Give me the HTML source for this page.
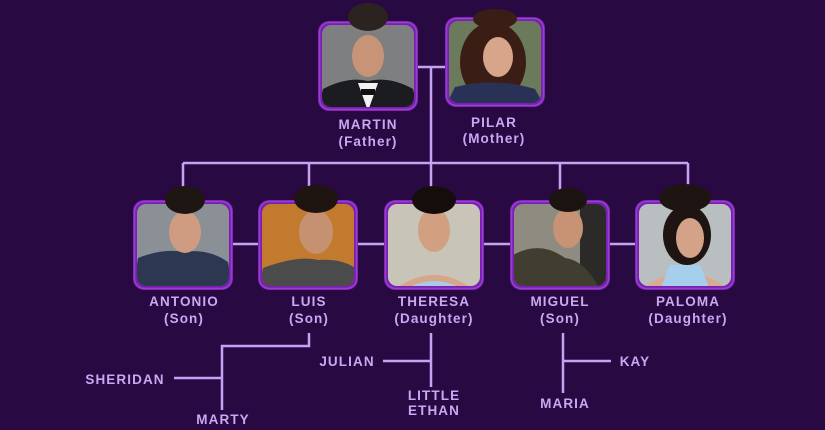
<!DOCTYPE html>
<html><head><meta charset="utf-8"><style>
html,body{margin:0;padding:0;background:#290942;}
body{width:825px;height:430px;overflow:hidden;position:relative;}
svg{position:absolute;left:0;top:0}
text{font-family:"Liberation Sans",sans-serif;font-weight:bold;fill:#c8a8f2;font-size:13.5px;letter-spacing:1.1px}
</style></head><body>
<svg width="825" height="430" viewBox="0 0 825 430">
<defs>
<clipPath id="c"><rect x="4" y="4" width="92" height="82" rx="9"/></clipPath>
<g id="frame"><rect x="0" y="0" width="100" height="90" rx="11" fill="#7a1fb3"/><rect x="1.5" y="1.5" width="97" height="87" rx="10" fill="none" stroke="#9640cc" stroke-width="1.5"/></g>
</defs>
<g stroke="#c7a2f2" stroke-width="2.5" fill="none">
<line x1="417" y1="67" x2="445" y2="67"/>
<line x1="431" y1="67" x2="431" y2="200"/>
<line x1="183" y1="163" x2="688" y2="163"/>
<line x1="183" y1="163" x2="183" y2="200"/>
<line x1="309" y1="163" x2="309" y2="200"/>
<line x1="560" y1="163" x2="560" y2="200"/>
<line x1="688" y1="163" x2="688" y2="200"/>
<line x1="233" y1="244" x2="258" y2="244"/>
<line x1="358" y1="244" x2="384" y2="244"/>
<line x1="484" y1="244" x2="510" y2="244"/>
<line x1="610" y1="244" x2="635" y2="244"/>
<polyline points="309,333 309,346 222,346 222,410"/>
<line x1="174" y1="378" x2="222" y2="378"/>
<line x1="431" y1="333" x2="431" y2="387"/>
<line x1="383" y1="361" x2="431" y2="361"/>
<line x1="563" y1="333" x2="563" y2="393"/>
<line x1="563" y1="361" x2="611" y2="361"/>
</g>
<!-- Martin -->
<g transform="translate(318,21)"><use href="#frame"/><g clip-path="url(#c)"><rect width="100" height="90" fill="#7d7f80"/><path d="M0 90 L5 68 Q30 55 50 60 Q72 55 95 68 L100 90Z" fill="#1b1b22"/><path d="M40 62 L50 90 L60 62Z" fill="#f3f3f3"/><ellipse cx="50" cy="35" rx="16" ry="21" fill="#c89478"/><rect x="43" y="68" width="14" height="6" fill="#111"/></g><ellipse cx="50" cy="-4" rx="20" ry="14" fill="#2b2320"/></g>
<!-- Pilar -->
<g transform="translate(445,17)"><use href="#frame"/><g clip-path="url(#c)"><rect width="100" height="90" fill="#6c7a5c"/><ellipse cx="48" cy="45" rx="33" ry="40" fill="#3a1e16"/><path d="M0 90 L10 70 Q50 60 90 72 L100 90Z" fill="#2a3156"/><ellipse cx="53" cy="40" rx="15" ry="20" fill="#d6a58a"/></g><ellipse cx="50" cy="2" rx="22" ry="10" fill="#3a1e16"/></g>
<!-- Antonio -->
<g transform="translate(133,200)"><use href="#frame"/><g clip-path="url(#c)"><rect width="100" height="90" fill="#8b8f96"/><path d="M0 90 L5 58 Q30 48 50 52 Q75 48 95 62 L100 90Z" fill="#2c3852"/><ellipse cx="52" cy="32" rx="16" ry="21" fill="#cf9c82"/></g><ellipse cx="52" cy="0" rx="20" ry="14" fill="#1d1612"/></g>
<!-- Luis -->
<g transform="translate(258,200)"><use href="#frame"/><g clip-path="url(#c)"><rect width="100" height="90" fill="#c27a2e"/><path d="M0 90 L5 68 Q40 55 60 60 Q85 58 100 70 L100 90Z" fill="#4b4b4b"/><ellipse cx="58" cy="32" rx="17" ry="22" fill="#c69170"/></g><ellipse cx="58" cy="-1" rx="22" ry="14" fill="#1e1510"/></g>
<!-- Theresa -->
<g transform="translate(384,200)"><use href="#frame"/><g clip-path="url(#c)"><rect width="100" height="90" fill="#c8c4b8"/><path d="M10 90 Q50 60 90 90Z" fill="#d7a68a"/><path d="M20 90 Q50 72 80 90Z" fill="#a7cde3"/><ellipse cx="50" cy="30" rx="16" ry="22" fill="#d0a080"/></g><ellipse cx="50" cy="0" rx="22" ry="14" fill="#140d0c"/></g>
<!-- Miguel -->
<g transform="translate(510,200)"><use href="#frame"/><g clip-path="url(#c)"><rect width="100" height="90" fill="#8e8c80"/><rect x="70" width="30" height="90" fill="#2b2a28"/><path d="M0 90 L3 55 Q30 40 55 58 Q75 60 90 90Z" fill="#3f3e30"/><ellipse cx="58" cy="28" rx="15" ry="20" fill="#c89274"/></g><ellipse cx="58" cy="0" rx="19" ry="12" fill="#1b1410"/></g>
<!-- Paloma -->
<g transform="translate(635,200)"><use href="#frame"/><g clip-path="url(#c)"><rect width="100" height="90" fill="#b9bfc0"/><path d="M5 90 Q50 55 95 90Z" fill="#d8ac92"/><path d="M25 90 L35 65 L65 65 L75 90Z" fill="#a6cfee"/><ellipse cx="52" cy="35" rx="24" ry="30" fill="#1e1512"/><ellipse cx="55" cy="38" rx="14" ry="20" fill="#d3a288"/></g><ellipse cx="50" cy="-2" rx="26" ry="14" fill="#1e1512"/></g>
<g text-anchor="middle">
<text x="368" y="129">MARTIN</text><text x="368" y="146">(Father)</text>
<text x="494" y="127">PILAR</text><text x="494" y="143">(Mother)</text>
<text x="184" y="306">ANTONIO</text><text x="184" y="323">(Son)</text>
<text x="309" y="306">LUIS</text><text x="309" y="323">(Son)</text>
<text x="434" y="306">THERESA</text><text x="434" y="323">(Daughter)</text>
<text x="560" y="306">MIGUEL</text><text x="560" y="323">(Son)</text>
<text x="688" y="306">PALOMA</text><text x="688" y="323">(Daughter)</text>
<text x="125" y="384">SHERIDAN</text>
<text x="223" y="424">MARTY</text>
<text x="347" y="366">JULIAN</text>
<text x="434" y="400">LITTLE</text><text x="434" y="415">ETHAN</text>
<text x="635" y="366">KAY</text>
<text x="565" y="408">MARIA</text>
</g>
</svg>
</body></html>
